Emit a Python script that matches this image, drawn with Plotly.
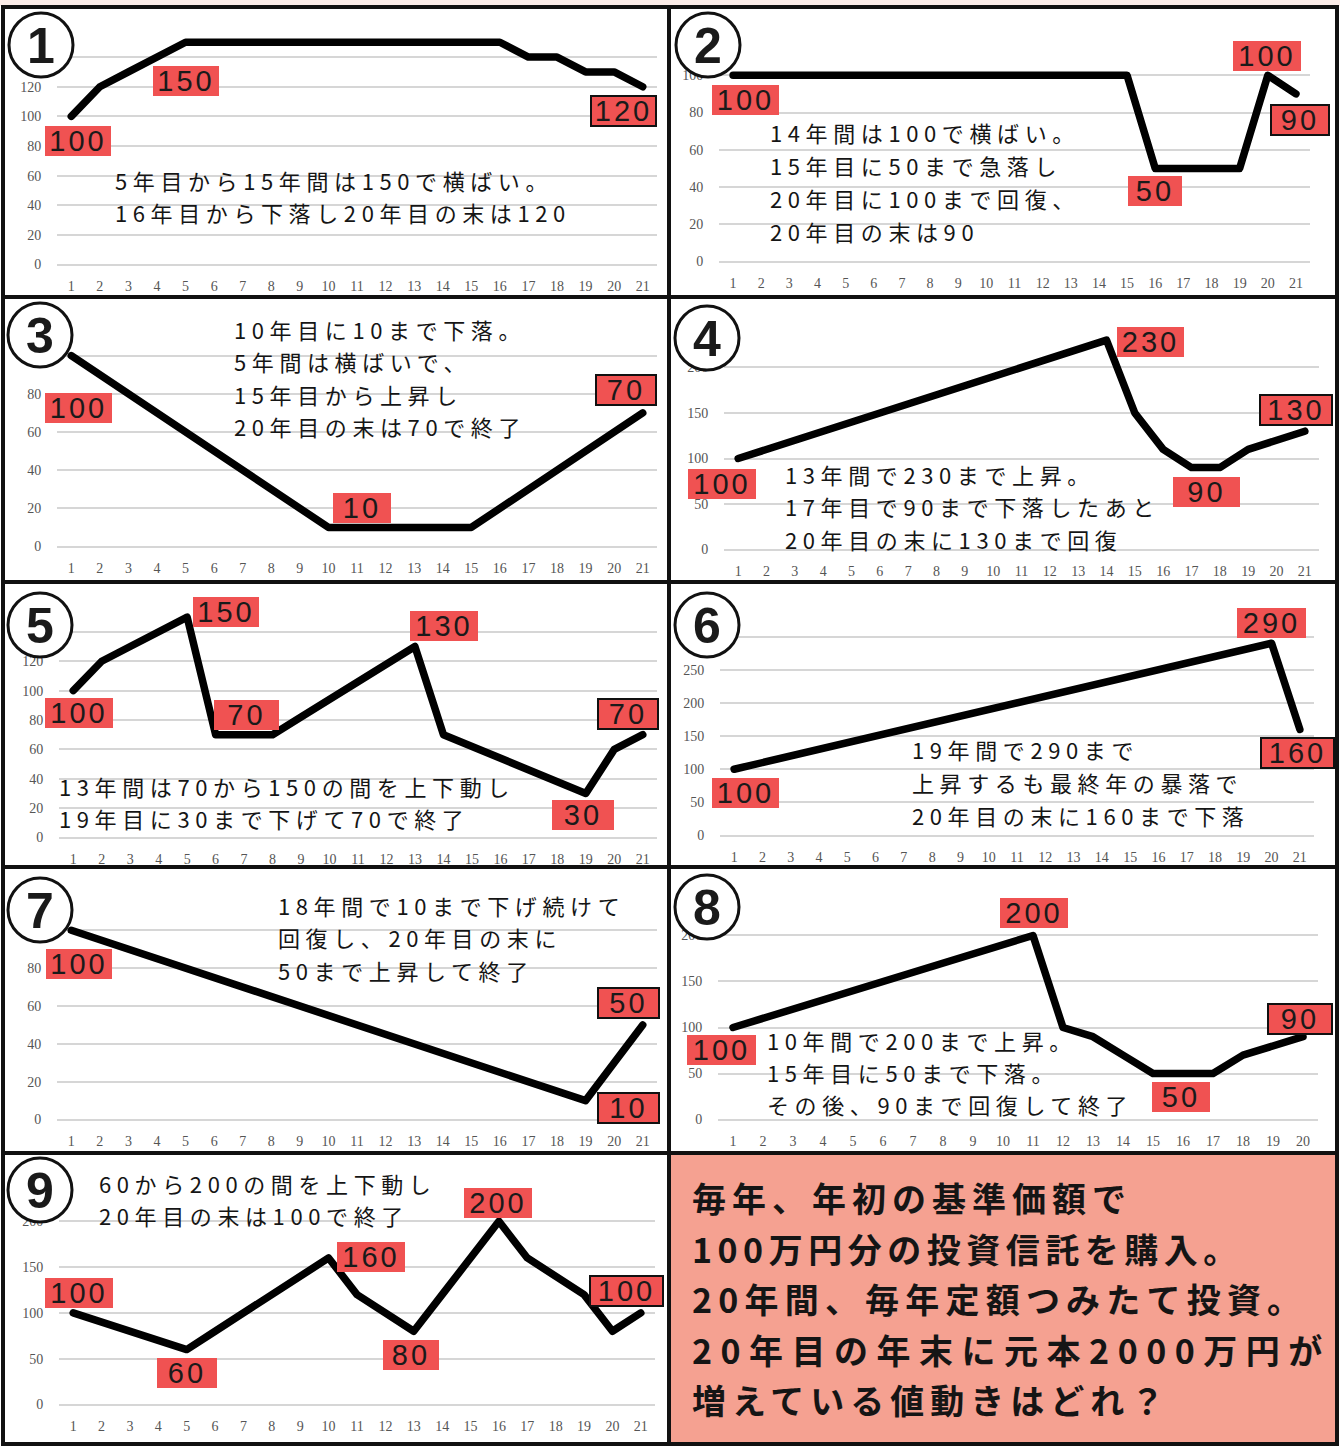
import json
import plotly.graph_objects as go

W, H = 1340, 1448

# ---------------- data ----------------
years21 = list(range(1, 22))
years20 = list(range(1, 21))

values1 = [100, 120, 130, 140, 150, 150, 150, 150, 150, 150, 150, 150, 150, 150, 150, 150, 140, 140, 130, 130, 120]
values2 = [100, 100, 100, 100, 100, 100, 100, 100, 100, 100, 100, 100, 100, 100, 100, 50, 50, 50, 50, 100, 90]
values3 = [100, 90, 80, 70, 60, 50, 40, 30, 20, 10, 10, 10, 10, 10, 10, 20, 30, 40, 50, 60, 70]
values4 = [100, 110, 120, 130, 140, 150, 160, 170, 180, 190, 200, 210, 220, 230, 150, 110, 90, 90, 110, 120, 130]
values5 = [100, 120, 130, 140, 150, 70, 70, 70, 82, 94, 106, 118, 130, 70, 62, 54, 46, 38, 30, 60, 70]
values6 = [100, 110, 120, 130, 140, 150, 160, 170, 180, 190, 200, 210, 220, 230, 240, 250, 260, 270, 280, 290, 160]
values7 = [100, 95, 90, 85, 80, 75, 70, 65, 60, 55, 50, 45, 40, 35, 30, 25, 20, 15, 10, 30, 50]
values8 = [100, 110, 120, 130, 140, 150, 160, 170, 180, 190, 200, 100, 90, 70, 50, 50, 50, 70, 80, 90]
values9 = [100, 90, 80, 70, 60, 80, 100, 120, 140, 160, 120, 100, 80, 120, 160, 200, 160, 140, 120, 80, 100]

panel_x = [years21, years21, years21, years21, years21, years21, years21, years20, years21]
panel_y = [values1, values2, values3, values4, values5, values6, values7, values8, values9]
panel_numbers = ["1", "2", "3", "4", "5", "6", "7", "8", "9"]

y_max = [160, 120, 120, 250, 160, 350, 120, 250, 250]
y_step = [20, 20, 20, 50, 20, 50, 20, 50, 50]
# how many top tick labels are hidden behind the circled number
y_hidden = [2, 1, 2, 1, 2, 1, 2, 1, 1]

callouts1 = ["100", "150", "120"]
callouts2 = ["100", "100", "90", "50"]
callouts3 = ["100", "10", "70"]
callouts4 = ["100", "230", "130", "90"]
callouts5 = ["100", "150", "70", "130", "70", "30"]
callouts6 = ["100", "290", "160"]
callouts7 = ["100", "50", "10"]
callouts8 = ["100", "200", "90", "50"]
callouts9 = ["100", "60", "160", "80", "200", "100"]
callouts = [callouts1, callouts2, callouts3, callouts4, callouts5, callouts6, callouts7, callouts8, callouts9]

notes1 = ["5年目から15年間は150で横ばい。", "16年目から下落し20年目の末は120"]
notes2 = ["14年間は100で横ばい。", "15年目に50まで急落し", "20年目に100まで回復、", "20年目の末は90"]
notes3 = ["10年目に10まで下落。", "5年間は横ばいで、", "15年目から上昇し", "20年目の末は70で終了"]
notes4 = ["13年間で230まで上昇。", "17年目で90まで下落したあと", "20年目の末に130まで回復"]
notes5 = ["13年間は70から150の間を上下動し", "19年目に30まで下げて70で終了"]
notes6 = ["19年間で290まで", "上昇するも最終年の暴落で", "20年目の末に160まで下落"]
notes7 = ["18年間で10まで下げ続けて", "回復し、20年目の末に", "50まで上昇して終了"]
notes8 = ["10年間で200まで上昇。", "15年目に50まで下落。", "その後、90まで回復して終了"]
notes9 = ["60から200の間を上下動し", "20年目の末は100で終了"]
notes = [notes1, notes2, notes3, notes4, notes5, notes6, notes7, notes8, notes9]

question = [
    "毎年、年初の基準価額で",
    "100万円分の投資信託を購入。",
    "20年間、毎年定額つみたて投資。",
    "20年目の年末に元本2000万円が",
    "増えている値動きはどれ？",
]

# ---------------- layout geometry (pixels) ----------------
frames = [  # left, right, top (y max), bottom (y 0)
    (57, 657, 27, 265),
    (719, 1310, 37.6, 262),
    (57, 657, 317, 547),
    (724, 1319, 321.5, 550),
    (59, 657, 602, 838),
    (720, 1314, 603, 836),
    (57, 657, 892, 1120),
    (718, 1318, 889, 1120),
    (59, 655, 1175, 1405),
]
circles = [(41, 45), (708, 45), (40, 335), (707, 338), (40, 625), (707, 625), (40, 910), (707, 907), (40, 1190)]
CR = 32

callout_pos = [
    [(78, 140.5, 66, False), (186, 81.5, 66, False), (623.5, 111, 67, True)],
    [(745.5, 100, 67, False), (1267, 56.5, 68, False), (1300, 119.5, 60, True), (1155, 190.5, 54, False)],
    [(78.5, 408, 67, False), (362, 508, 58, False), (626, 390.5, 62, True)],
    [(722, 484, 68, False), (1150, 342, 67, False), (1296, 410, 74, True), (1206, 492, 67, False)],
    [(79, 713, 68, False), (226, 612, 66, False), (247, 715, 65, False), (444, 626, 68, False), (628, 714, 62, True), (583, 815, 62, False)],
    [(745, 793, 67, False), (1271, 623, 69, False), (1297, 753, 75, True)],
    [(79, 964, 66, False), (628, 1003, 63, True), (628, 1108, 63, True)],
    [(722, 1050, 69, False), (1034, 913, 68, False), (1300, 1019, 66, True), (1181, 1097, 58, False)],
    [(79, 1293, 68, False), (187, 1373, 60, False), (371, 1257, 68, False), (411, 1355, 56, False), (498, 1203, 68, False), (626, 1291, 75, True)],
]
note_pos = [
    (113, [180, 212]),
    (768, [132, 165, 198, 231]),
    (232, [329, 361, 394, 426]),
    (783, [474, 506, 539]),
    (57, [786, 818]),
    (910, [749, 782, 815]),
    (276, [905, 937, 970]),
    (765, [1040, 1072, 1104]),
    (97, [1183, 1215]),
]
question_x = 690
question_y = [1197, 1248, 1298, 1349, 1399]
question_spacing = [6, 5.5, 6.2, 8.5, 6]

RED = "#F05252"
SALMON = "#F5A191"
GRID = "#d6d6d6"
TICKFONT = dict(family="Liberation Serif", size=14, color="#555555")


def px(x):
    return x / W


def py(y):
    return 1 - y / H


fig = go.Figure()
layout = dict(
    width=W, height=H, autosize=False,
    margin=dict(l=0, r=0, t=0, b=0, pad=0, autoexpand=False),
    paper_bgcolor="white", plot_bgcolor="white",
    showlegend=False,
)

for i in range(9):
    k = "" if i == 0 else str(i + 1)
    xs, ys = panel_x[i], panel_y[i]
    fig.add_trace(go.Scatter(
        x=xs, y=ys, mode="lines",
        line=dict(color="black", width=7.5),
        xaxis="x" + k, yaxis="y" + k, hoverinfo="skip",
    ))
    l, r, t, b = frames[i]
    n = len(xs)
    ym = y_max[i]
    eps = ym * 0.002
    yt = list(range(0, ym + 1, y_step[i]))
    ylab = [str(v) for v in yt]
    for j in range(y_hidden[i]):
        ylab[-1 - j] = ""
    layout["xaxis" + k] = dict(
        domain=[px(l), px(r)], anchor="y" + k,
        range=[0.5, n + 0.5], tickvals=xs, ticktext=[str(v) for v in xs],
        showgrid=False, zeroline=False, showline=False,
        ticks="outside", ticklen=8, tickcolor="rgba(0,0,0,0)",
        tickfont=TICKFONT, fixedrange=True,
    )
    layout["yaxis" + k] = dict(
        domain=[py(b), py(t)], anchor="x" + k,
        range=[-eps, ym + eps], tickvals=yt, ticktext=ylab,
        showgrid=True, gridcolor=GRID, gridwidth=1.5,
        zeroline=True, zerolinecolor=GRID, zerolinewidth=1.5,
        showline=False, ticks="outside", ticklen=12, tickcolor="rgba(0,0,0,0)",
        tickfont=TICKFONT, fixedrange=True,
    )

shapes = []
annotations = []
spacing = []

# frame and separators
shapes.append(dict(type="rect", xref="paper", yref="paper", x0=0, x1=1, y0=py(0), y1=py(6),
                   fillcolor="#fbece8", line=dict(width=0), layer="below"))
shapes.append(dict(type="rect", xref="paper", yref="paper", x0=px(671), x1=px(1335), y0=py(1442), y1=py(1155),
                   fillcolor=SALMON, line=dict(width=0), layer="below"))
for yy in [297, 582, 867, 1153]:
    shapes.append(dict(type="line", xref="paper", yref="paper", x0=px(2), x1=px(1337), y0=py(yy), y1=py(yy),
                       line=dict(color="#111111", width=4), layer="above"))
shapes.append(dict(type="line", xref="paper", yref="paper", x0=px(669), x1=px(669), y0=py(7), y1=py(1444),
                   line=dict(color="#111111", width=4), layer="above"))
shapes.append(dict(type="rect", xref="paper", yref="paper", x0=px(3), x1=px(1337), y0=py(1444), y1=py(7),
                   line=dict(color="#111111", width=4), layer="above"))

# circled numbers
for i, (cx, cy) in enumerate(circles):
    shapes.append(dict(type="circle", xref="paper", yref="paper",
                       x0=px(cx - CR), x1=px(cx + CR), y0=py(cy + CR), y1=py(cy - CR),
                       fillcolor="white", line=dict(color="#111111", width=3), layer="above"))
    annotations.append(dict(xref="paper", yref="paper", x=px(cx), y=py(cy + 1), text=panel_numbers[i],
                            showarrow=False, xanchor="center", yanchor="middle",
                            font=dict(family="Liberation Sans", size=50, color="#1a1a1a", weight=900)))
    spacing.append(0)

# callouts
for i in range(9):
    for txt, (cx, cy, w, bordered) in zip(callouts[i], callout_pos[i]):
        bw = 2 if bordered else 0
        h = 32 if bordered else 30
        annotations.append(dict(xref="paper", yref="paper", x=px(cx), y=py(cy), text=txt,
                                showarrow=False, xanchor="center", yanchor="middle", align="center",
                                width=w - 2 * bw, height=h - 2 * bw, borderpad=0,
                                bgcolor=RED, bordercolor="#111111" if bordered else RED, borderwidth=bw,
                                font=dict(family="Liberation Sans", size=29, color="#1a1a1a")))
        spacing.append(3)

# notes
for i in range(9):
    x0, ylist = note_pos[i]
    for txt, yy in zip(notes[i], ylist):
        annotations.append(dict(xref="paper", yref="paper", x=px(x0), y=py(yy), text=txt,
                                showarrow=False, xanchor="left", yanchor="middle", align="left",
                                font=dict(family="Noto Sans CJK JP", size=22, color="#151515")))
        spacing.append(5.6)

# question box text
for txt, yy, sp in zip(question, question_y, question_spacing):
    annotations.append(dict(xref="paper", yref="paper", x=px(question_x), y=py(yy), text=txt,
                            showarrow=False, xanchor="left", yanchor="middle", align="left",
                            font=dict(family="Noto Sans CJK JP", size=34, color="#151515", weight="bold")))
    spacing.append(sp)

layout["shapes"] = shapes
layout["annotations"] = annotations
fig.update_layout(**layout)

post = """
var de = document.documentElement;
de.style.margin = '0'; de.style.padding = '0'; de.style.overflow = 'hidden';
document.body.style.margin = '0'; document.body.style.padding = '0'; document.body.style.overflow = 'hidden';
var gd = document.getElementById('{plot_id}');
var ls = LSJSON;
gd.querySelectorAll('g.annotation').forEach(function(g){
  var i = +g.getAttribute('data-index');
  var t = g.querySelector('text.annotation-text');
  if (t && ls[i]) { t.style.letterSpacing = ls[i] + 'px'; }
});
gd.querySelectorAll('.scatterlayer .js-line').forEach(function(p){
  p.style.strokeLinejoin = 'round';
  p.style.strokeLinecap = 'round';
});
""".replace("LSJSON", json.dumps(spacing))

fig.write_html("out.html", post_script=post, config={"displayModeBar": False})
